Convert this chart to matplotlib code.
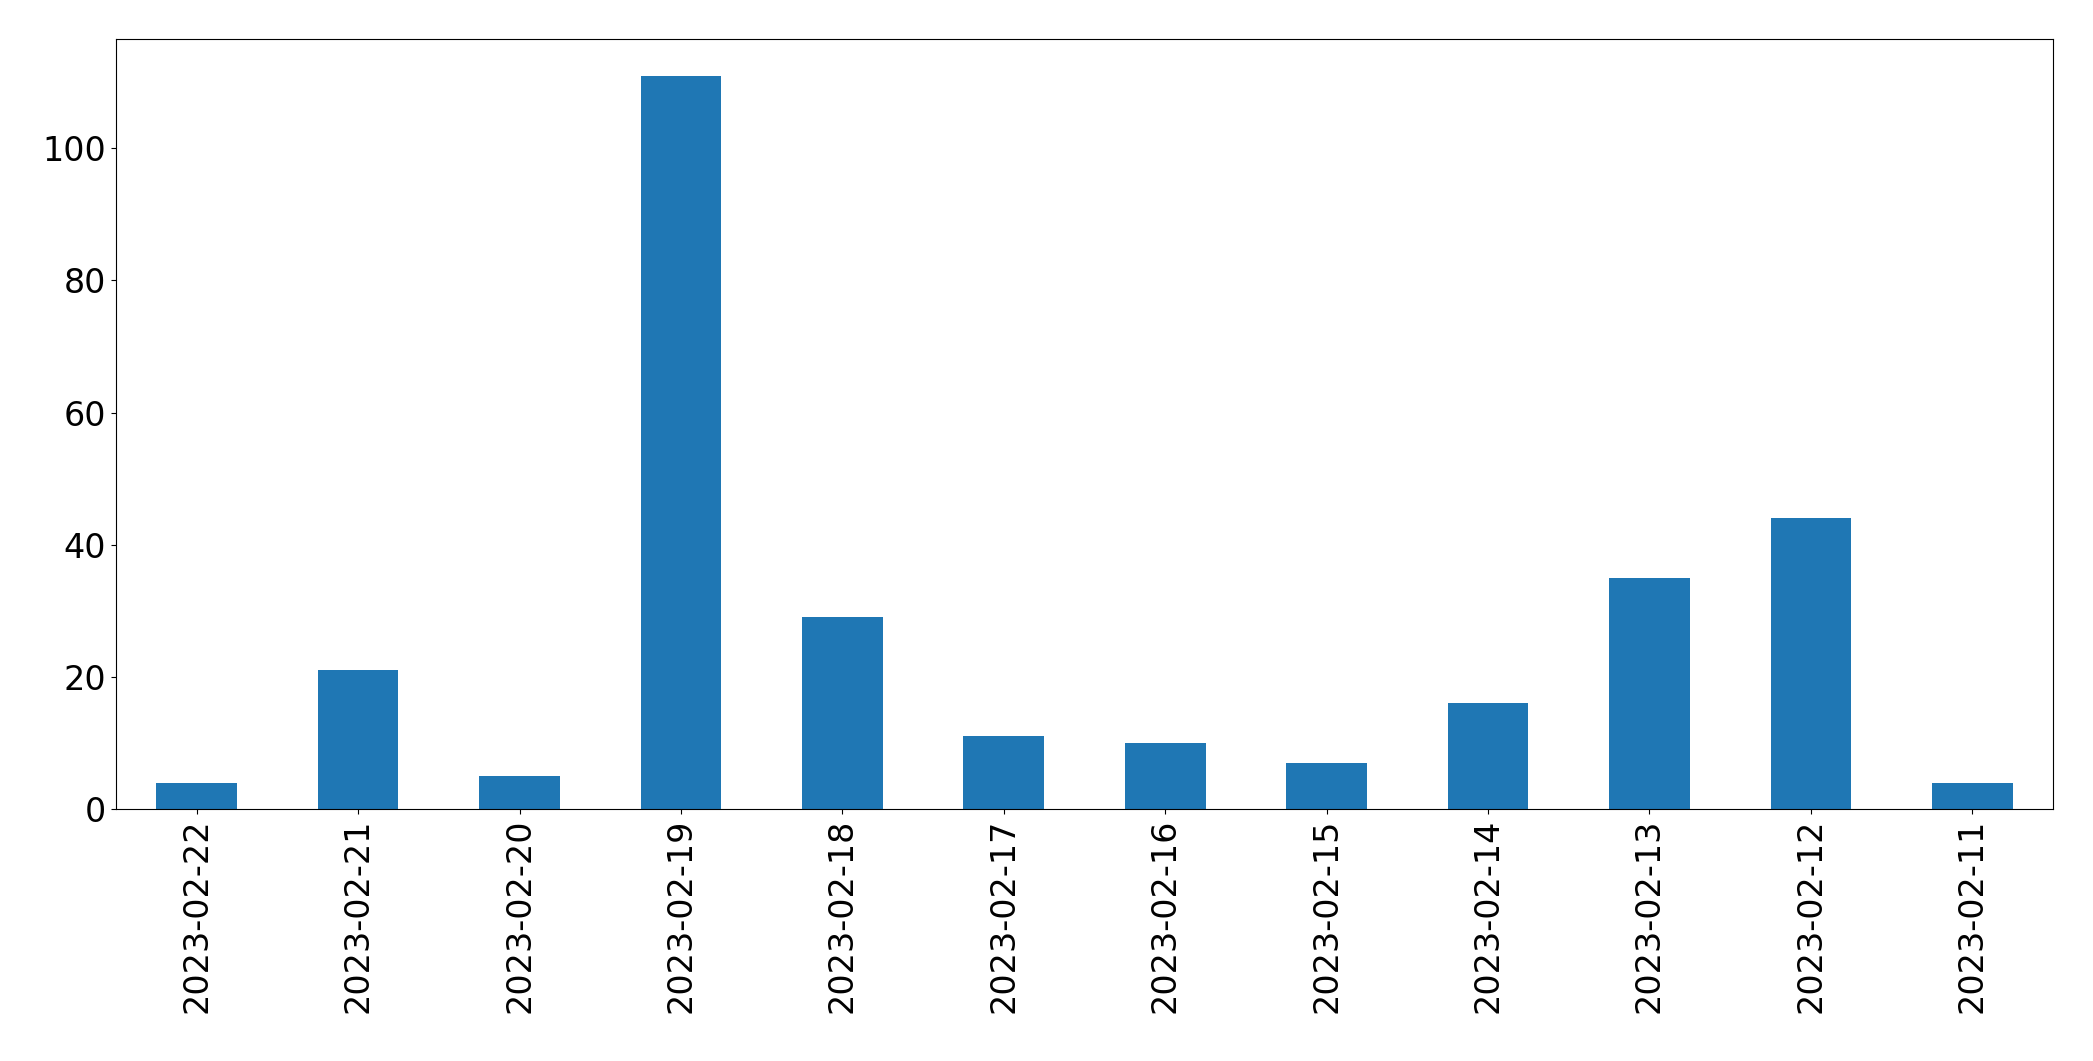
import matplotlib
matplotlib.use("Agg")
import matplotlib.pyplot as plt
import pandas as pd

dates = ["2023-02-22", "2023-02-21", "2023-02-20", "2023-02-19", "2023-02-18", "2023-02-17",
         "2023-02-16", "2023-02-15", "2023-02-14", "2023-02-13", "2023-02-12", "2023-02-11"]
counts = [4, 21, 5, 111, 29, 11, 10, 7, 16, 35, 44, 4]

fig = plt.figure(figsize=(20.93, 10.61), dpi=100)
ax = fig.add_axes([116/2093, 1-809/1061, (2053-116)/2093, (809-39)/1061])
s = pd.Series(counts, index=dates)
s.plot(kind="bar", ax=ax, color="#1f77b4", width=0.5)
ax.tick_params(axis="both", labelsize=24)
plt.setp(ax.get_xticklabels(), rotation=90)
fig.savefig("out.png", dpi=100)
